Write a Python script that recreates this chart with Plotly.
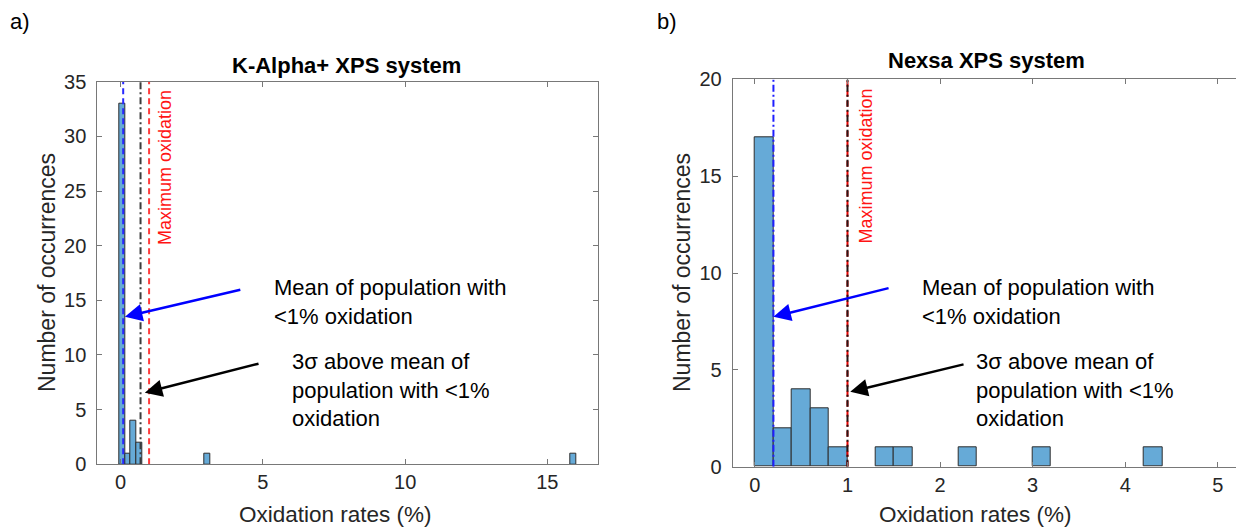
import plotly.graph_objects as go

# ---- data -------------------------------------------------------------
# K-Alpha+ histogram (bin centres, bin width 0.2 %)
ka_centers = [0.05, 0.25, 0.45, 0.65, 3.05, 15.9]
ka_counts = [33, 1, 4, 2, 1, 1]
ka_mean = 0.09       # mean of population with <1% oxidation
ka_3sigma = 0.70     # 3 sigma above that mean

# Nexsa histogram
nx_centers = [0.1, 0.3, 0.5, 0.7, 0.9, 1.4, 1.6, 2.3, 3.1, 4.3]
nx_counts = [17, 2, 4, 3, 1, 1, 1, 1, 1, 1]
nx_mean = 0.2
nx_3sigma = 1.0

max_oxidation = 1.0
bin_width = 0.2

ka_xticks = [0, 5, 10, 15]
ka_yticks = [0, 5, 10, 15, 20, 25, 30, 35]
nx_xticks = [0, 1, 2, 3, 4, 5]
nx_yticks = [0, 5, 10, 15, 20]

# ---- style ------------------------------------------------------------
W, H = 1236, 529
FONT = "Liberation Sans, Arial, Helvetica, sans-serif"
BAR_FILL = "rgb(102,170,215)"
BAR_EDGE = "rgb(45,45,45)"
AX_COL = "rgb(120,120,120)"
TXT = "rgb(38,38,38)"


def px(x):
    return x / W


def py(y):
    return 1 - y / H


fig = go.Figure()

# histograms
fig.add_trace(go.Bar(x=ka_centers, y=ka_counts, width=bin_width,
                     marker=dict(color=BAR_FILL, line=dict(color=BAR_EDGE, width=1)),
                     xaxis="x", yaxis="y", hoverinfo="skip"))
fig.add_trace(go.Bar(x=nx_centers, y=nx_counts, width=bin_width,
                     marker=dict(color=BAR_FILL, line=dict(color=BAR_EDGE, width=1)),
                     xaxis="x2", yaxis="y2", hoverinfo="skip"))


def vline(x, ytop, color, dash, xa, ya, width=2):
    fig.add_trace(go.Scatter(x=[x, x], y=[0, ytop], mode="lines",
                             line=dict(color=color, dash=dash, width=width),
                             xaxis=xa, yaxis=ya, hoverinfo="skip"))


DASH = "6px,4px"
DASHDOT = "7px,3px,2px,3px"

# K-Alpha+ reference lines
vline(max_oxidation, 35, "rgb(255,60,60)", DASH, "x", "y")
vline(ka_3sigma, 35, "rgb(60,60,60)", DASHDOT, "x", "y")
vline(ka_mean, 35, "rgb(40,40,255)", DASH, "x", "y")

# Nexsa reference lines
vline(max_oxidation, 20, "rgb(230,0,0)", DASH, "x2", "y2")
vline(nx_3sigma, 20, "rgb(40,20,20)", DASHDOT, "x2", "y2")
vline(nx_mean, 20, "rgb(30,30,255)", DASHDOT, "x2", "y2")

axis_common = dict(showline=True, linecolor=AX_COL, linewidth=1, ticks="inside",
                   ticklen=5, tickcolor=AX_COL, showgrid=False, zeroline=False,
                   automargin=False,
                   tickfont=dict(family=FONT, size=20, color=TXT))

fig.update_layout(
    width=W, height=H, margin=dict(l=0, r=0, t=0, b=0),
    paper_bgcolor="white", plot_bgcolor="white", showlegend=False,
    bargap=0,
    xaxis=dict(domain=[px(97.3), px(598.3)], range=[-0.82, 16.79], tickvals=ka_xticks,
               anchor="y", mirror="ticks", **axis_common),
    yaxis=dict(domain=[py(464.3), py(81.7)], range=[0, 35], tickvals=ka_yticks,
               anchor="x", mirror="ticks", ticklabelstandoff=6, **axis_common),
    xaxis2=dict(domain=[px(732.7), 1.0], range=[-0.24, 5.197], tickvals=nx_xticks,
                anchor="y2", mirror="ticks", **axis_common),
    yaxis2=dict(domain=[py(466.7), py(79.3)], range=[0, 20], tickvals=nx_yticks,
                anchor="x2", ticklabelstandoff=6, **axis_common),
)

ann = []


def text(x, y, s, size=22, color="black", xanchor="center", bold=False, angle=0,
         xref="paper", yref="paper"):
    if bold:
        s = "<b>" + s + "</b>"
    ann.append(dict(x=x, y=y, xref=xref, yref=yref, text=s, showarrow=False,
                    xanchor=xanchor, yanchor="middle", textangle=angle, align="left",
                    font=dict(family=FONT, size=size, color=color)))


# panel tags and titles
text(px(8), py(22), "a)", xanchor="left")
text(px(655), py(22), "b)", xanchor="left")
text(px(346), py(66), "K-Alpha+ XPS system", bold=True)
text(px(986), py(61), "Nexsa XPS system", bold=True)

# axis titles
text(px(335), py(514), "Oxidation rates (%)", size=22.5, color=TXT)
text(px(976), py(514), "Oxidation rates (%)", size=22.5, color=TXT)
text(px(47), py(273), "Number of occurrences", size=23, color=TXT, angle=-90)
text(px(682), py(273), "Number of occurrences", size=23, color=TXT, angle=-90)

# rotated labels of the maximum-oxidation lines
text(1.56, 27.1, "Maximum oxidation", size=18, color="rgb(255,20,20)", angle=-90,
     xref="x", yref="y")
text(1.2, 15.5, "Maximum oxidation", size=18, color="rgb(255,20,20)", angle=-90,
     xref="x2", yref="y2")

# callout texts
text(px(272), py(301.5), "Mean of population with<br><1% oxidation", xanchor="left")
text(px(290), py(389.5), "3σ above mean of<br>population with <1%<br>oxidation", xanchor="left")
text(px(920), py(301.5), "Mean of population with<br><1% oxidation", xanchor="left")
text(px(974), py(389.5), "3σ above mean of<br>population with <1%<br>oxidation", xanchor="left")


def arrow(x, y, ax, ay, color, xa, ya):
    ann.append(dict(x=x, y=y, ax=ax, ay=ay, xref=xa, yref=ya, axref=xa, ayref=ya,
                    text="", showarrow=True, arrowhead=2, arrowsize=1.4,
                    arrowwidth=2.5, arrowcolor=color))


arrow(0.15, 13.5, 4.26, 16.0, "rgb(0,0,255)", "x", "y")
arrow(0.85, 6.55, 4.9, 9.24, "black", "x", "y")
arrow(0.2, 7.74, 1.46, 9.24, "rgb(0,0,255)", "x2", "y2")
arrow(1.03, 3.87, 2.27, 5.3, "black", "x2", "y2")

fig.update_layout(annotations=ann)

fig.write_html("out.html")
